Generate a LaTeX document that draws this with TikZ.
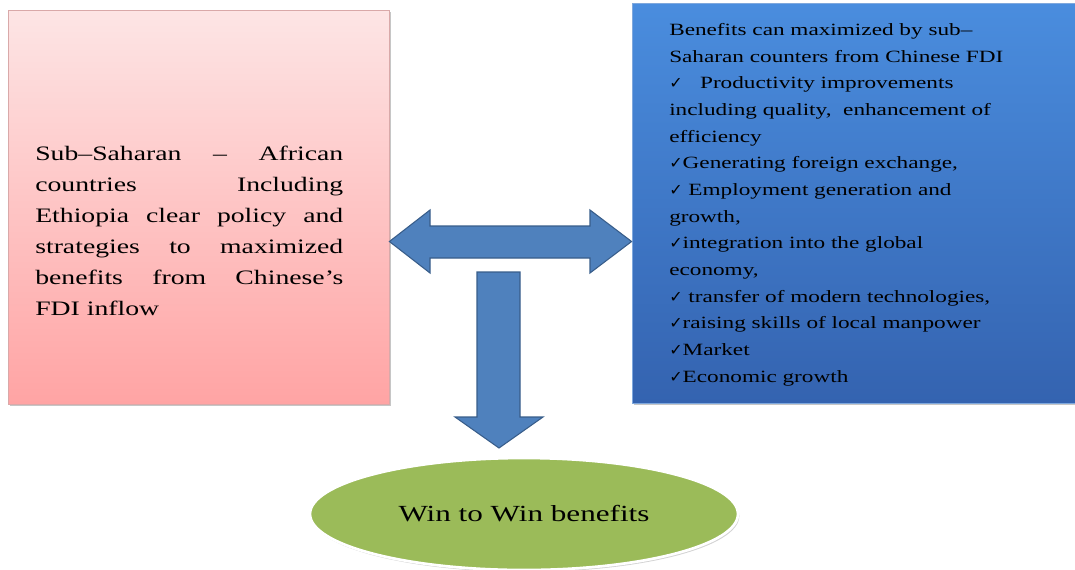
\documentclass[tikz,border=0pt]{standalone}
\usepackage{fontspec}
\setmainfont{Liberation Serif}[FakeStretch=1.35]
\newfontfamily\tickfont{DejaVu Sans}
\usepackage{xcolor}
\usepackage{tikz}
\usetikzlibrary{positioning,shapes.geometric,shadows}

\definecolor{pinktop}{HTML}{FDE5E5}
\definecolor{pinkbot}{HTML}{FFA4A4}
\definecolor{pinkline}{HTML}{D9A9A9}
\definecolor{bluetop}{HTML}{4A8DDE}
\definecolor{bluebot}{HTML}{3463B0}
\definecolor{blueline}{HTML}{7FA8DD}
\definecolor{arrowfill}{HTML}{4F81BD}
\definecolor{arrowline}{HTML}{385D8A}
\definecolor{ovalgreen}{HTML}{9BBB59}

\tolerance=10000
\hbadness=10000

\newcommand{\tick}{{\tickfont\fontsize{12}{12}\selectfont ✓}}

\begin{document}
\begin{tikzpicture}[x=0.75pt,y=-0.75pt,
  pinkbox/.style={rectangle,draw=pinkline,line width=0.6pt,top color=pinktop,bottom color=pinkbot,
    drop shadow={shadow xshift=1.5pt,shadow yshift=-1.5pt,opacity=0.45}},
  bluebox/.style={rectangle,draw=blueline,line width=0.6pt,top color=bluetop,bottom color=bluebot,
    drop shadow={shadow xshift=1.5pt,shadow yshift=-1.5pt,opacity=0.45}},
  bluearrow/.style={draw=arrowline,line width=0.8pt,fill=arrowfill,line join=miter},
  winoval/.style={ellipse,draw=white,line width=2pt,fill=ovalgreen,
    drop shadow={shadow xshift=1pt,shadow yshift=-1.5pt,opacity=0.35}}]
\useasboundingbox (0,0) rectangle (1075,569);

\node[pinkbox,minimum width=285.75pt,minimum height=295.5pt] (policy) at (198.5,207) {};
\node[bluebox,minimum width=332.25pt,minimum height=300pt] (gains) at (853.5,203) {};

\node[anchor=west,inner sep=0pt,text width=231pt,align=justify,
  font=\fontsize{15.4}{23.25}\selectfont] (policytxt) at (35,230.5)
  {Sub--Saharan \ -- \ African\linebreak
   countries Including\linebreak
   Ethiopia clear policy and\linebreak
   strategies to maximized\linebreak
   benefits from Chinese’s\linebreak
   FDI inflow};

\node[anchor=west,inner sep=0pt,align=left,
  font=\fontsize{12.9}{20}\selectfont] (gainstxt) at (669,204.5)
  {Benefits can maximized by sub--\\
   Saharan counters from Chinese FDI\\
   \tick\ \ \ Productivity improvements\\
   including quality, \ enhancement of\\
   efficiency\\
   \tick Generating foreign exchange,\\
   \tick\ Employment generation and\\
   growth,\\
   \tick integration into the global\\
   economy,\\
   \tick\ transfer of modern technologies,\\
   \tick raising skills of local manpower\\
   \tick Market\\
   \tick Economic growth};

% two-way arrow between the boxes
\draw[bluearrow] (policy.east |- 0,241.5) coordinate (linkL)
  -- (430,210) -- (430,226) -- (590,226) -- (590,210)
  -- (gains.west |- 0,241.5) coordinate (linkR)
  -- (590,273) -- (590,258) -- (430,258) -- (430,273) -- cycle;
% downward arrow
\draw[bluearrow] (477,272) -- (520,272) -- (520,417) -- (543,417)
  -- (499,448) coordinate (downtip) -- (455,417) -- (477,417) -- cycle;

\node[winoval,minimum width=321pt,minimum height=84pt,
  font=\fontsize{17.3}{20}\selectfont] (win) at (524,514) {Win to Win benefits};
\end{tikzpicture}
\end{document}
